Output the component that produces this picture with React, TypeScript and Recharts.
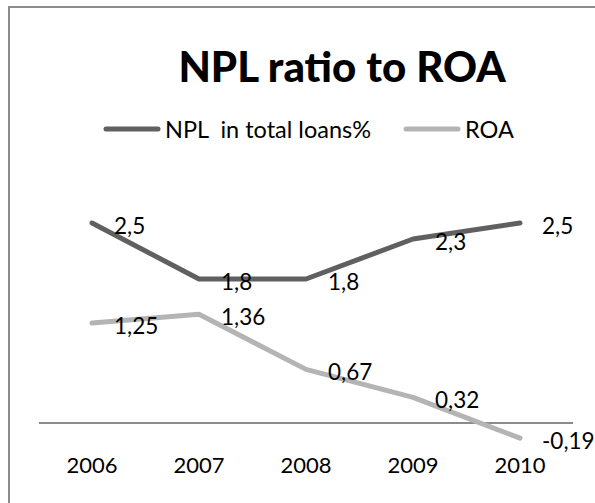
import React from 'react';
import { LineChart, Line, XAxis, YAxis, ReferenceLine, LabelList, Legend } from 'recharts';

const categories = ['2006', '2007', '2008', '2009', '2010'];
const nplValues = [2.5, 1.8, 1.8, 2.3, 2.5];
const roaValues = [1.25, 1.36, 0.67, 0.32, -0.19];
const seriesNames = ['NPL  in total loans%', 'ROA'];
const seriesColors = ['#606060', '#b4b4b4'];
const titleText = 'NPL ratio to ROA';

const data = categories.map((c, i) => ({ year: c, npl: nplValues[i], roa: roaValues[i] }));

const FONT = 'Lato, "Open Sans", sans-serif';

const fmt = (v: number) => String(v).replace('.', ',');

const renderLabel = (props: any) => {
  const { x, y, value } = props;
  return (
    <text
      x={Number(x) + 22}
      y={Number(y) + 2}
      dominantBaseline="central"
      textAnchor="start"
      fontSize={22.5}
      fontFamily={FONT}
      fill="#000"
    >
      {fmt(Number(value))}
    </text>
  );
};

const renderLegend = (props: any) => {
  const { payload } = props;
  return (
    <div style={{ display: 'flex', alignItems: 'center', fontFamily: FONT, fontSize: 23.5, lineHeight: '24px', color: '#000', paddingLeft: 103 }}>
      {(payload || []).map((p: any, i: number) => (
        <div key={i} style={{ display: 'flex', alignItems: 'center', marginRight: 32 }}>
          <svg width={58} height={8} style={{ display: 'block' }}>
            <line x1={3} y1={4} x2={55} y2={4} stroke={p.color} strokeWidth={5} strokeLinecap="round" />
          </svg>
          <span style={{ whiteSpace: 'pre', marginLeft: 4 }}>{p.value}</span>
        </div>
      ))}
    </div>
  );
};

export default function App() {
  return (
    <div style={{ position: 'absolute', left: 0, top: 0, width: 595, height: 503, background: '#fff', overflow: 'hidden' }}>
      <div style={{ position: 'absolute', left: 8, top: 6, width: 700, height: 600, border: '2px solid #8b8b8b' }} />
      <div
        style={{
          position: 'absolute',
          left: 0,
          top: 45,
          width: 684,
          textAlign: 'center',
          fontFamily: FONT,
          fontWeight: 900,
          fontSize: 42,
          lineHeight: '42px',
          color: '#000',
        }}
      >
        {titleText}
      </div>
      <div style={{ position: 'absolute', left: 0, top: 0 }}>
        <LineChart width={595} height={503} data={data} margin={{ top: 183, right: 22, bottom: 30, left: 39 }}>
          <XAxis
            dataKey="year"
            height={30}
            padding={{ left: 53, right: 53 }}
            axisLine={false}
            tickLine={false}
            tickSize={0}
            tickMargin={14}
            interval={0}
            tick={{ fontSize: 22, fill: '#000', fontFamily: FONT }}
          />
          <YAxis hide domain={[-0.25, 3]} type="number" />
          <ReferenceLine y={0} stroke="#8b8b8b" strokeWidth={2} />
          <Legend
            layout="horizontal"
            verticalAlign="middle"
            align="center"
            content={renderLegend}
            wrapperStyle={{ top: 117, left: 0, width: 595 }}
          />
          <Line
            type="linear"
            dataKey="npl"
            name={seriesNames[0]}
            stroke={seriesColors[0]}
            strokeWidth={5}
            strokeLinecap="round"
            strokeLinejoin="round"
            dot={false}
            activeDot={false}
            isAnimationActive={false}
          >
            <LabelList dataKey="npl" content={renderLabel} />
          </Line>
          <Line
            type="linear"
            dataKey="roa"
            name={seriesNames[1]}
            stroke={seriesColors[1]}
            strokeWidth={5}
            strokeLinecap="round"
            strokeLinejoin="round"
            dot={false}
            activeDot={false}
            isAnimationActive={false}
          >
            <LabelList dataKey="roa" content={renderLabel} />
          </Line>
        </LineChart>
      </div>
    </div>
  );
}
